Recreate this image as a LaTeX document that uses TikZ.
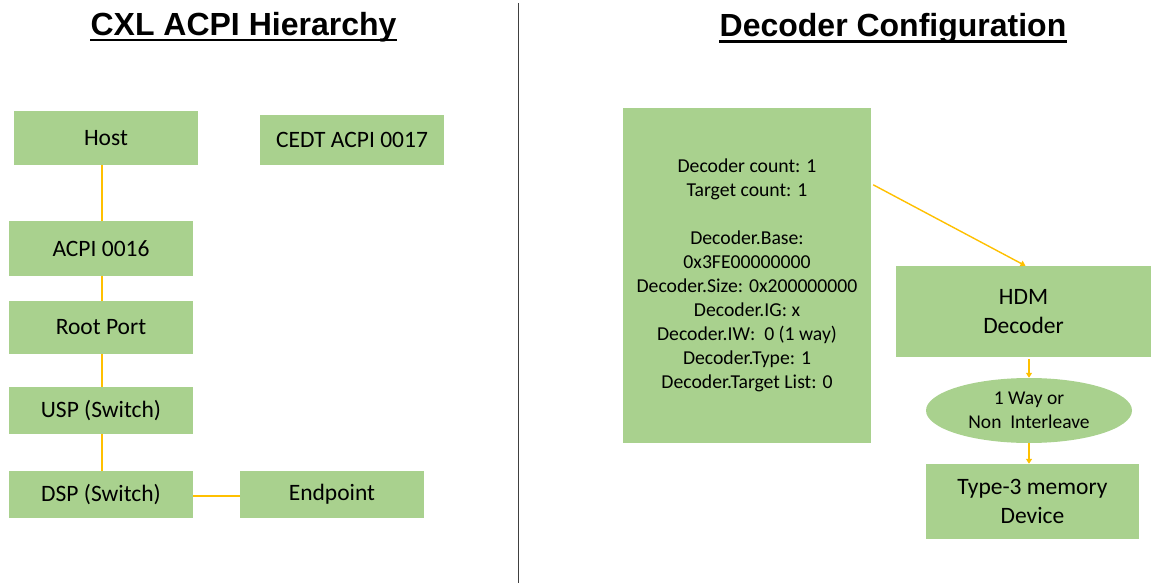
\documentclass[tikz,border=0pt]{standalone}
\usepackage{fontspec}
\setmainfont{Carlito}
\newfontfamily\titlefont{Liberation Sans}
\usetikzlibrary{arrows.meta,shapes.geometric}
\definecolor{boxgreen}{HTML}{A9D18E}
\definecolor{linegold}{HTML}{FFC000}
\definecolor{divgray}{HTML}{404040}
\tikzset{
  gbox/.style={rectangle, fill=boxgreen, draw=none, inner sep=0pt, align=center,
    font=\fontsize{23.5}{29}\selectfont},
  conn/.style={draw=linegold, line width=1.4pt},
  arr/.style={conn, -{Triangle[width=6pt,length=5pt]}},
  ttl/.style={inner sep=0pt, anchor=base, font=\titlefont\bfseries\fontsize{32}{36}\selectfont}
}
\begin{document}
\begin{tikzpicture}[x=1pt,y=-1pt]
\useasboundingbox (0,0) rectangle (1151,583);
% titles
\node[ttl] (t1) at (243.5,35.5) {CXL ACPI Hierarchy};
\draw[line width=2.3pt] ([yshift=-4.5pt]t1.base west) -- ([yshift=-4.5pt]t1.base east);
\node[ttl] (t2) at (893,37) {Decoder Configuration};
\draw[line width=2.3pt] ([yshift=-4.5pt]t2.base west) -- ([yshift=-4.5pt]t2.base east);
% divider
\coordinate (dtop) at (518.7,3);
\coordinate (dbot) at (518.7,583);
\draw[divgray, line width=1.3pt] (dtop) -- (dbot);
% left hierarchy
\node[gbox, minimum width=184pt, minimum height=54pt] (host) at (106,138) {Host};
\node[gbox, minimum width=184pt, minimum height=50pt] (cedt) at (352,140) {CEDT ACPI 0017};
\node[gbox, minimum width=184pt, minimum height=55pt] (acpi) at (101,248.5) {ACPI 0016};
\node[gbox, minimum width=184pt, minimum height=53pt] (root) at (101,327.5) {Root Port};
\node[gbox, minimum width=184pt, minimum height=47pt] (usp) at (101,410.5) {USP (Switch)};
\node[gbox, minimum width=184pt, minimum height=47pt] (dsp) at (101,494.5) {DSP (Switch)};
\node[gbox, minimum width=184pt, minimum height=47pt] (ep) at (332,494.5) {Endpoint};
\draw[conn] ([xshift=1pt]acpi.north |- host.south) -- ([xshift=1pt]acpi.north);
\draw[conn] ([xshift=1pt]acpi.south) -- ([xshift=1pt]root.north);
\draw[conn] ([xshift=1pt]root.south) -- ([xshift=1pt]usp.north);
\draw[conn] ([xshift=1pt]usp.south) -- ([xshift=1pt]dsp.north);
\draw[conn] ([yshift=-1.5pt]dsp.east) -- ([yshift=-1.5pt]ep.west);
% right configuration
\node[gbox, minimum width=248pt, minimum height=335pt, font=\fontsize{19.7}{24}\selectfont] (big) at (747,275.5)
  {Decoder count: 1\\Target count: 1\\[24pt]Decoder.Base:\\0x3FE00000000\\Decoder.Size: 0x200000000\\Decoder.IG: x\\Decoder.IW:\ \ 0 (1 way)\\Decoder.Type: 1\\Decoder.Target List: 0};
\node[gbox, minimum width=255pt, minimum height=91pt] (hdm) at (1023.5,311.5) {HDM\\Decoder};
\node[ellipse, fill=boxgreen, inner sep=0pt, minimum width=206pt, minimum height=65pt, align=center,
  font=\fontsize{19.5}{24}\selectfont] (way) at (1029,410.5) {1 Way or\\Non\ \ Interleave};
\node[gbox, minimum width=213pt, minimum height=75pt] (dev) at (1032.5,501.5) {Type-3 memory\\Device};
\draw[arr] ([shift={(2pt,-77pt)}]big.north east) -- ([xshift=2pt]hdm.north);
\draw[arr] ([xshift=5.5pt,yshift=-2pt]hdm.south) -- (way.north);
\draw[arr] (way.south) -- (way.south |- dev.north);
\end{tikzpicture}
\end{document}
